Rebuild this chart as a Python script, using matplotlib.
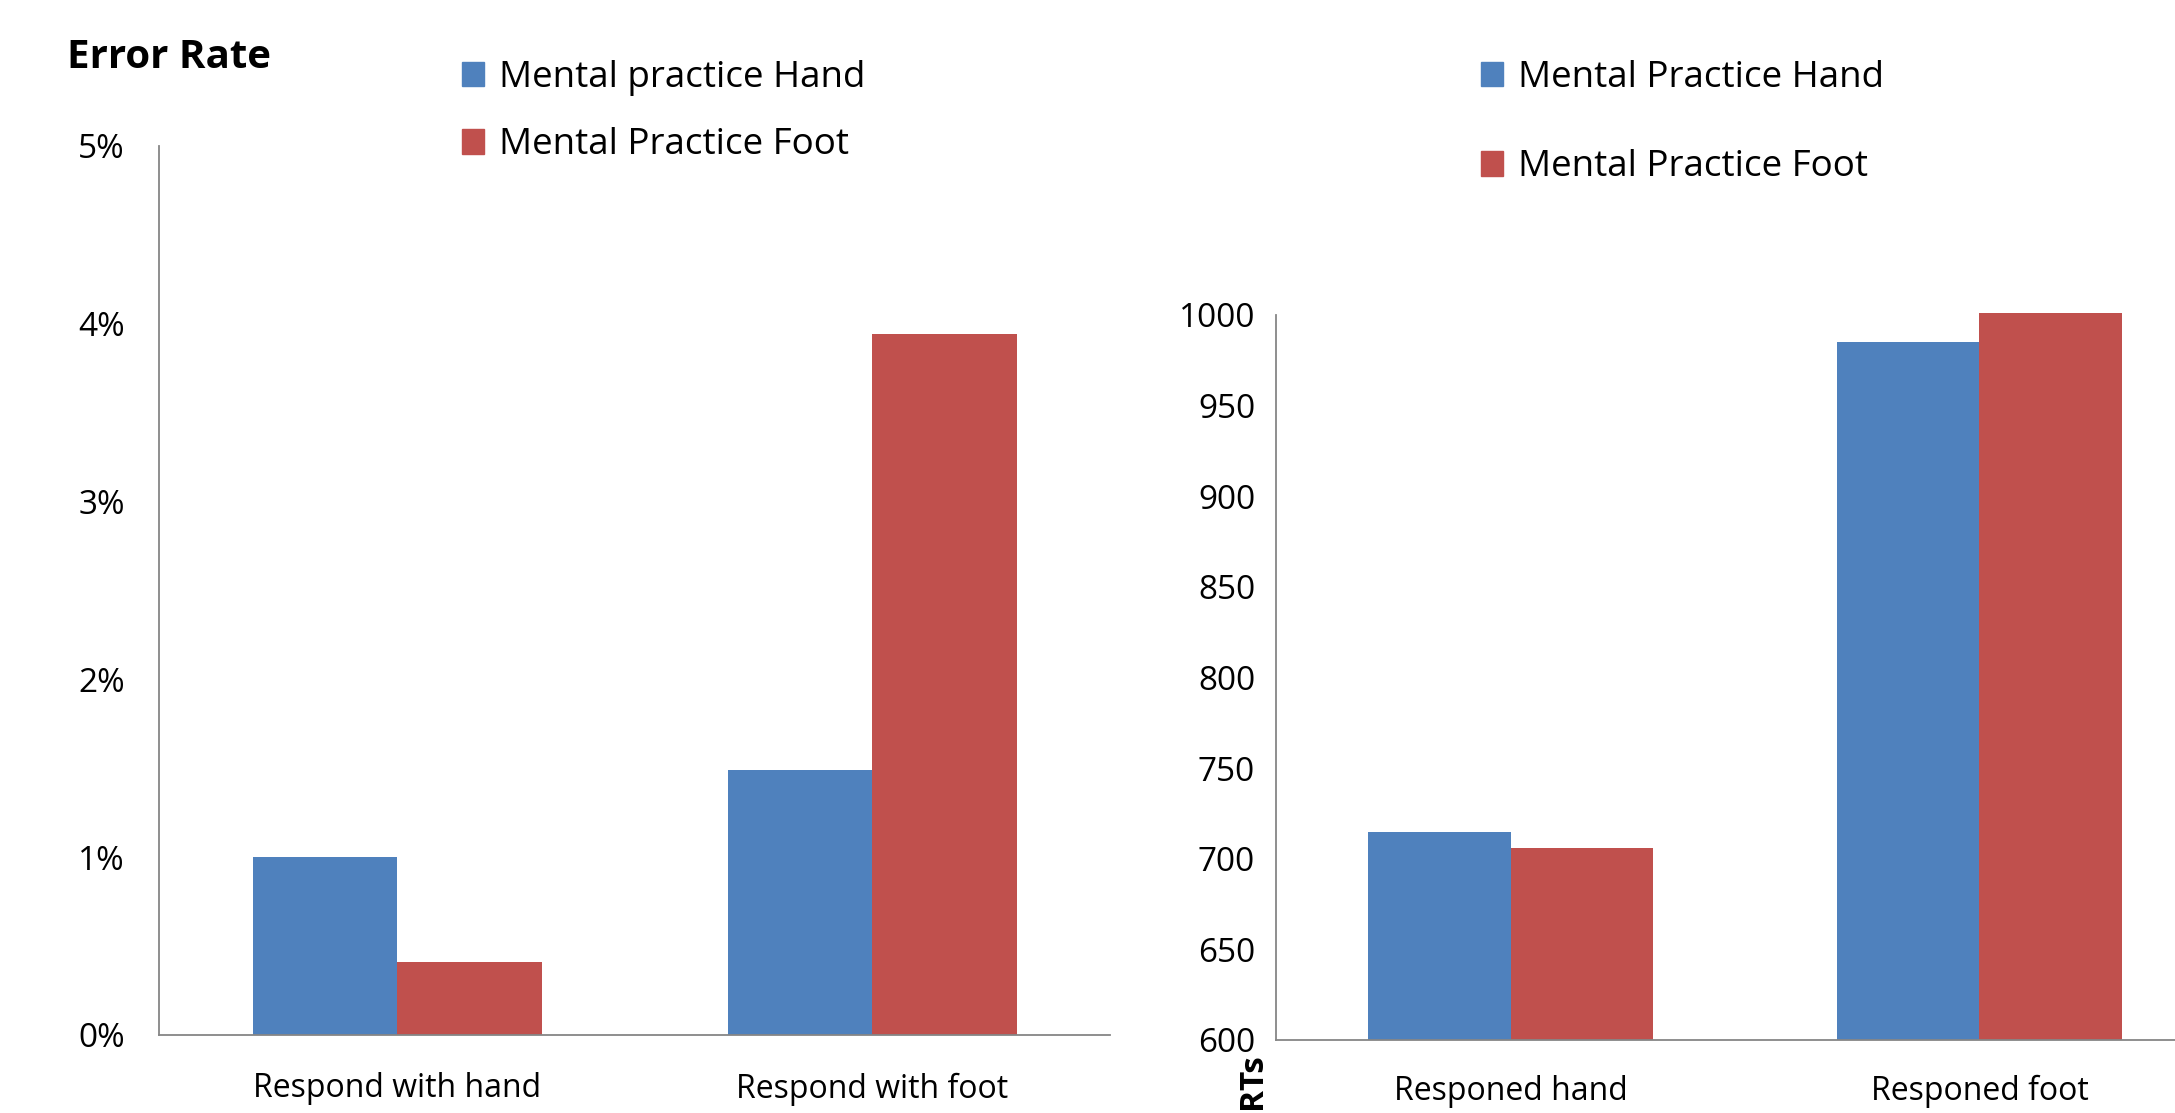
import numpy as np
import matplotlib
matplotlib.use("Agg")
import matplotlib.pyplot as plt
from matplotlib.patches import Patch
from matplotlib.ticker import FuncFormatter

plt.rcParams['font.family'] = ['Liberation Sans Narrow', 'Open Sans', 'DejaVu Sans']

# dados
cat_err = ["Respond with hand", "Respond with foot"]
err_hand = [0.0100, 0.0149]
err_foot = [0.0041, 0.0394]

cat_rt = ["Responed hand", "Responed foot"]
rt_hand = [715, 985]
rt_foot = [706, 1001]

leg_err = ["Mental practice Hand", "Mental Practice Foot"]
leg_rt = ["Mental Practice Hand", "Mental Practice Foot"]

azul = "#4F81BD"
vermelho = "#C0504D"
cinza = "#868686"
w = 0.304
base_rt = 600

fig = plt.figure(figsize=(21.75, 11.13), dpi=100)
ax1 = fig.add_axes([0.0733, 0.0701, 0.437, 0.7991])
ax2 = fig.add_axes([0.5867, 0.0656, 0.4312, 0.6514])

def estilo(ax):
    for s in ["top", "right"]:
        ax.spines[s].set_visible(False)
    for s in ["left", "bottom"]:
        ax.spines[s].set_color(cinza)
        ax.spines[s].set_linewidth(1.3)
    ax.tick_params(length=0)
    ax.set_xlim(-0.5, 1.5)

x = np.arange(2)

# grafico da esquerda - taxa de erro
ax1.bar(x - w/2, err_hand, w, color=azul)
ax1.bar(x + w/2, err_foot, w, color=vermelho)
estilo(ax1)
ax1.set_ylim(0, 0.05)
ax1.set_yticks(np.arange(0, 0.051, 0.01))
ax1.yaxis.set_major_formatter(FuncFormatter(lambda v, p: f"{v*100:.0f}%"))
ax1.tick_params(axis="y", labelsize=24, pad=25)
ax1.set_xticks(x)
ax1.set_xticklabels(cat_err, fontsize=23)
ax1.tick_params(axis="x", pad=27)

# grafico da direita - tempos de reacao (eixo comeca em 600)
ax2.bar(x - w/2, np.array(rt_hand) - base_rt, w, bottom=base_rt, color=azul, clip_on=False)
ax2.bar(x + w/2, np.array(rt_foot) - base_rt, w, bottom=base_rt, color=vermelho, clip_on=False)
estilo(ax2)
ax2.set_ylim(600, 1000)
ax2.set_yticks(np.arange(600, 1001, 50))
ax2.tick_params(axis="y", labelsize=24, pad=15)
ax2.set_xticks(x)
ax2.set_xticklabels(cat_rt, fontsize=23)
ax2.tick_params(axis="x", pad=25)

fig.text(67/2175, 1 - 57/1113, "Error Rate", fontsize=29, fontweight="bold",
         va="center", ha="left")
fig.text(1253/2175, 1 - 1081/1113, "RTs", fontsize=24, fontweight="bold",
         rotation=90, va="center", ha="center")

h = [Patch(color=azul), Patch(color=vermelho)]
fig.legend(h, leg_err, loc="upper left", bbox_to_anchor=(462/2175, 1 - 60/1113),
           frameon=False, fontsize=26.5, handlelength=0.6, handleheight=0.65,
           handletextpad=0.4, labelspacing=0.85, borderaxespad=0, borderpad=0)
fig.legend(h, leg_rt, loc="upper left", bbox_to_anchor=(1481/2175, 1 - 60/1113),
           frameon=False, fontsize=26.5, handlelength=0.6, handleheight=0.65,
           handletextpad=0.4, labelspacing=1.45, borderaxespad=0, borderpad=0)

fig.savefig("out.png", dpi=100)
